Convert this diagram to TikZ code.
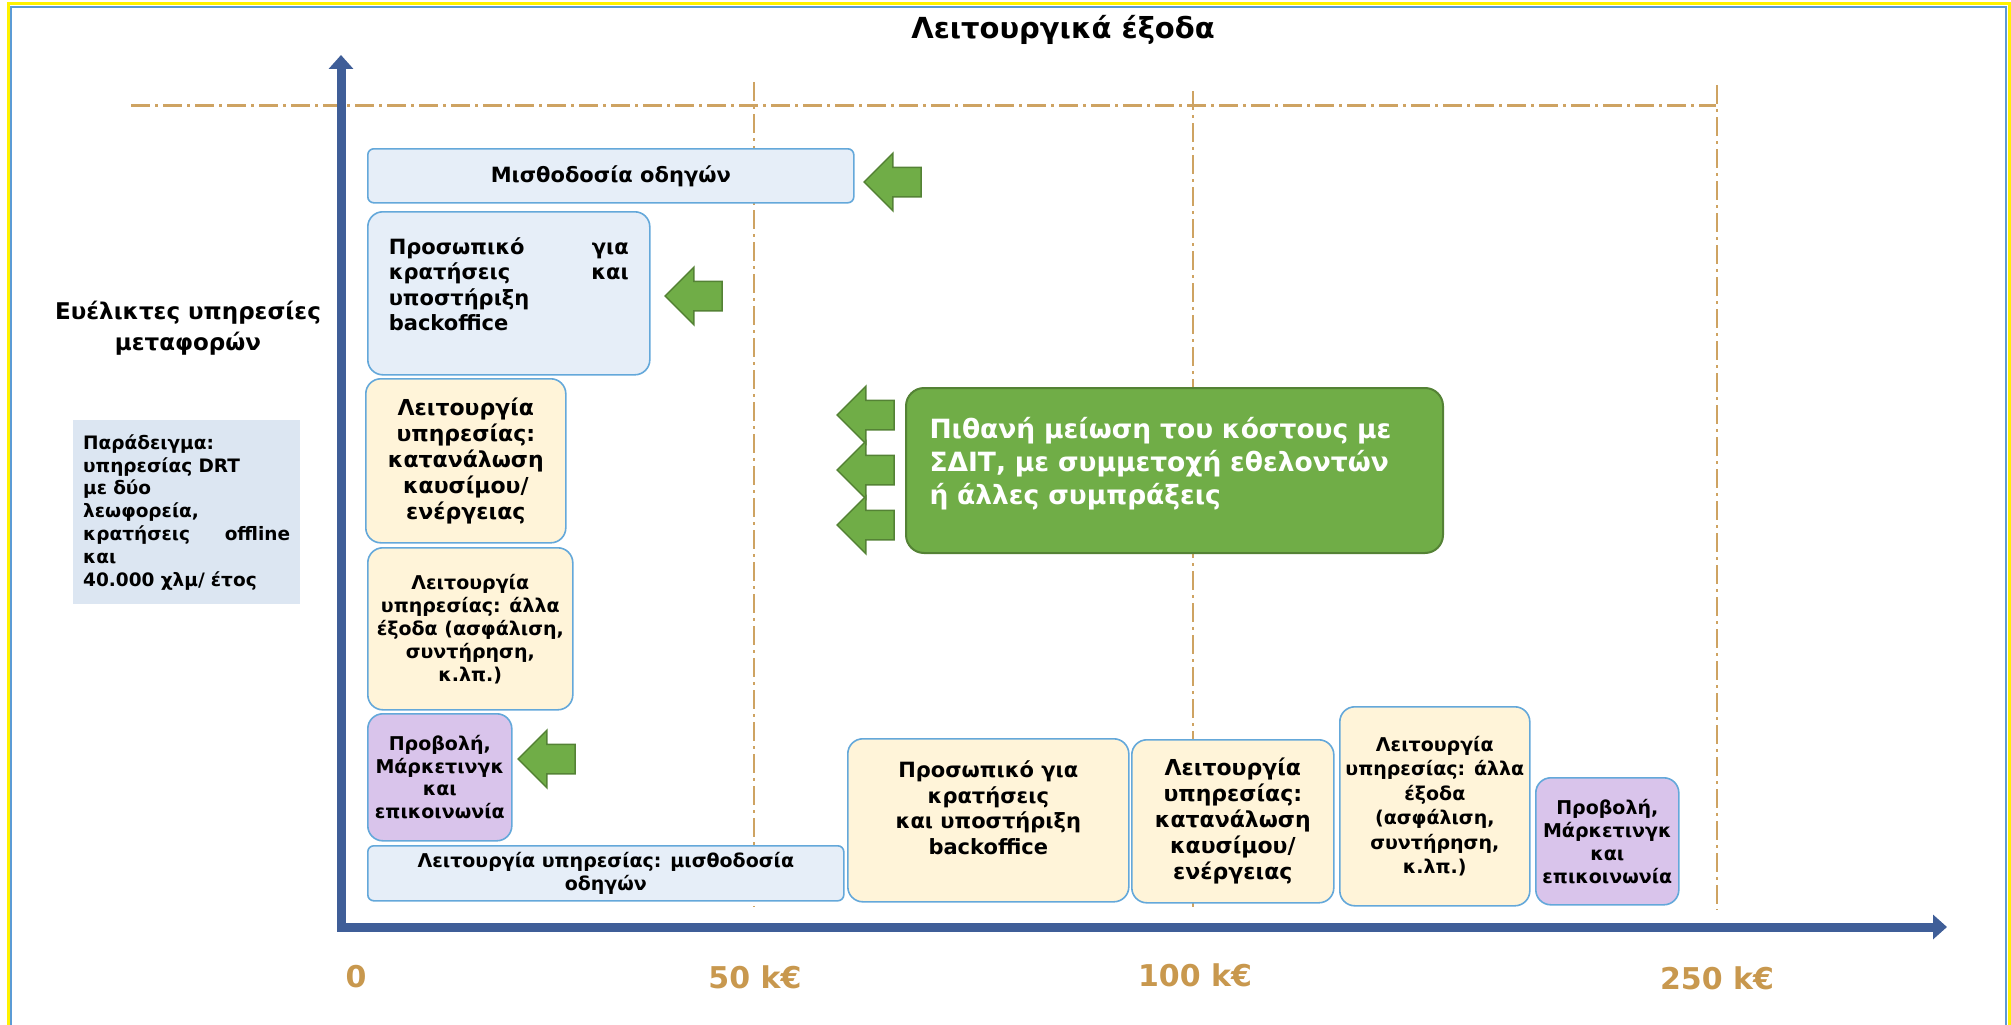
\documentclass[tikz,border=0pt]{standalone}
\usepackage{fontspec}
\setmainfont{DejaVu Sans}
\usepackage{tikz}
\usepackage{xcolor}
\usetikzlibrary{shapes.arrows, arrows.meta}
\definecolor{ax_blue}{RGB}{63,94,152}
\definecolor{line_tan}{RGB}{206,163,98}
\definecolor{tick_tan}{RGB}{200,152,78}
\definecolor{box_blue}{RGB}{100,168,218}
\definecolor{fill_blue}{RGB}{230,238,248}
\definecolor{fill_cream}{RGB}{255,244,217}
\definecolor{fill_purple}{RGB}{217,196,235}
\definecolor{fill_ex}{RGB}{220,230,242}
\definecolor{fill_green}{RGB}{112,173,71}
\definecolor{edge_green}{RGB}{84,130,53}
\definecolor{frame_blue}{RGB}{91,155,213}

\begin{document}
\begin{tikzpicture}[x=1pt,y=-1pt,
    box/.style={draw=box_blue,line width=1.6pt,rounded corners=15pt,anchor=north west,inner sep=0pt,align=center},
    bluebox/.style={box,fill=fill_blue},
    creambox/.style={box,fill=fill_cream},
    purplebox/.style={box,fill=fill_purple},
    larrow/.style={single arrow,shape border rotate=180,fill=fill_green,draw=edge_green,line width=1.5pt,
        minimum height=57pt,inner xsep=0pt,inner ysep=14pt,single arrow head extend=14pt},
    tick/.style={text=tick_tan,font=\bfseries\fontsize{30}{32}\selectfont}]
    \useasboundingbox (0,0) rectangle (2011,1025);
    %枠
    \draw[yellow,line width=3pt] (8,4) rectangle (2009,1040);
    \draw[frame_blue,line width=1.2pt] (11,7) rectangle (2006,1040);
    %タイトル
    \node[font=\bfseries\fontsize{29}{31}\selectfont] (title) at (1063,30) {Λειτουργικά έξοδα};
    \node[align=center,font=\bfseries\fontsize{23}{31}\selectfont] (ylab) at (188,328) {Ευέλικτες υπηρεσίες\\μεταφορών};
    %点線
    \draw[line_tan,line width=3pt,dash pattern=on 19pt off 5pt on 3pt off 5pt] (131,105)--(1716,105);
    \draw[line_tan,line width=2.5pt,dash pattern=on 19pt off 5pt on 3pt off 5pt] (754,82)--(754,907);
    \draw[line_tan,line width=2.5pt,dash pattern=on 19pt off 5pt on 3pt off 5pt] (1193,91)--(1193,907);
    \draw[line_tan,line width=2.5pt,dash pattern=on 19pt off 5pt on 3pt off 5pt] (1717,85)--(1717,910);
    %軸
    \coordinate (O) at (341,927);
    \coordinate (ytop) at (341,55);
    \coordinate (xend) at (1947,927);
    \draw[ax_blue,line width=9pt,{Triangle[length=14pt,width=24pt]}-{Triangle[length=14pt,width=24pt]}] (ytop)--(O)--(xend);
    \node[tick] (t0) at (356,977) {0};
    \node[tick] (t50) at (755,977) {50 k€};
    \node[tick] (t100) at (1195,975) {100 k€};
    \node[tick] (t250) at (1717,978) {250 k€};
    %例
    \node[anchor=north west,fill=fill_ex,minimum width=227pt,minimum height=184pt,inner sep=0pt,text width=207pt,align=left,
        font=\bfseries\fontsize{18.5}{22.8}\selectfont] (ex) at (73,420)
        {Παράδειγμα:\\υπηρεσίας DRT\\με δύο\\λεωφορεία,\\κρατήσεις\hfill offline\\και\\40.000 χλμ/ έτος};
    %左の箱
    \node[bluebox,rounded corners=6pt,minimum width=486pt,minimum height=54pt,font=\bfseries\fontsize{21}{24}\selectfont] (pay) at (367,148) {Μισθοδοσία οδηγών};
    \node[bluebox,minimum width=282pt,minimum height=163pt,text width=240pt,align=left,font=\bfseries\fontsize{21}{25.3}\selectfont] (staff) at (367,211)
        {Προσωπικό\hfill για\\κρατήσεις\hfill και\\υποστήριξη\\backoffice\\[-7pt]\mbox{}};
    \node[creambox,minimum width=200pt,minimum height=164pt,font=\bfseries\fontsize{22}{26}\selectfont] (fuel) at (365,378)
        {Λειτουργία\\υπηρεσίας:\\κατανάλωση\\καυσίμου/\\ενέργειας};
    \node[creambox,minimum width=205pt,minimum height=162pt,font=\bfseries\fontsize{19}{23}\selectfont] (other) at (367,547)
        {Λειτουργία\\υπηρεσίας: άλλα\\έξοδα (ασφάλιση,\\συντήρηση,\\κ.λπ.)};
    \node[purplebox,minimum width=144pt,minimum height=127pt,font=\bfseries\fontsize{19}{22.5}\selectfont] (mkt) at (367,713)
        {Προβολή,\\Μάρκετινγκ\\και\\επικοινωνία};
    \node[bluebox,rounded corners=6pt,minimum width=476pt,minimum height=55pt,font=\bfseries\fontsize{19}{23.5}\selectfont] (pay2) at (367,845)
        {Λειτουργία υπηρεσίας: μισθοδοσία\\οδηγών};
    %下の箱
    \node[creambox,minimum width=281pt,minimum height=163pt,font=\bfseries\fontsize{21}{25.7}\selectfont] (staffB) at (847,738)
        {Προσωπικό για\\κρατήσεις\\και υποστήριξη\\backoffice\\\mbox{}};
    \node[creambox,minimum width=202pt,minimum height=163pt,font=\bfseries\fontsize{22}{26}\selectfont] (fuelB) at (1131,739)
        {Λειτουργία\\υπηρεσίας:\\κατανάλωση\\καυσίμου/\\ενέργειας};
    \node[creambox,minimum width=190pt,minimum height=199pt,font=\bfseries\fontsize{19}{24.5}\selectfont] (otherB) at (1339,706)
        {Λειτουργία\\υπηρεσίας: άλλα\\έξοδα\\(ασφάλιση,\\συντήρηση,\\κ.λπ.)};
    \node[purplebox,minimum width=143pt,minimum height=127pt,font=\bfseries\fontsize{19}{23}\selectfont] (mktB) at (1535,777)
        {Προβολή,\\Μάρκετινγκ\\και\\επικοινωνία};
    %緑の箱
    \node[anchor=north west,fill=fill_green,draw=edge_green,line width=2pt,rounded corners=18pt,minimum width=537pt,minimum height=165pt,
        inner sep=0pt,text width=490pt,align=left,text=white,font=\bfseries\fontsize{26.5}{33}\selectfont] (ppp) at (905,387)
        {Πιθανή μείωση του κόστους με\\ΣΔΙΤ, με συμμετοχή εθελοντών\\ή άλλες συμπράξεις\\[-13pt]\mbox{}};
    %矢印
    \node[larrow] (a1) at (900,182) {};
    \node[larrow] (a2) at (701,296) {};
    \node[larrow] (a3) at (873,415) {};
    \node[larrow] (a4) at (873,470) {};
    \node[larrow] (a5) at (873,525) {};
    \node[larrow] (a6) at (554,759) {};
\end{tikzpicture}
\end{document}
